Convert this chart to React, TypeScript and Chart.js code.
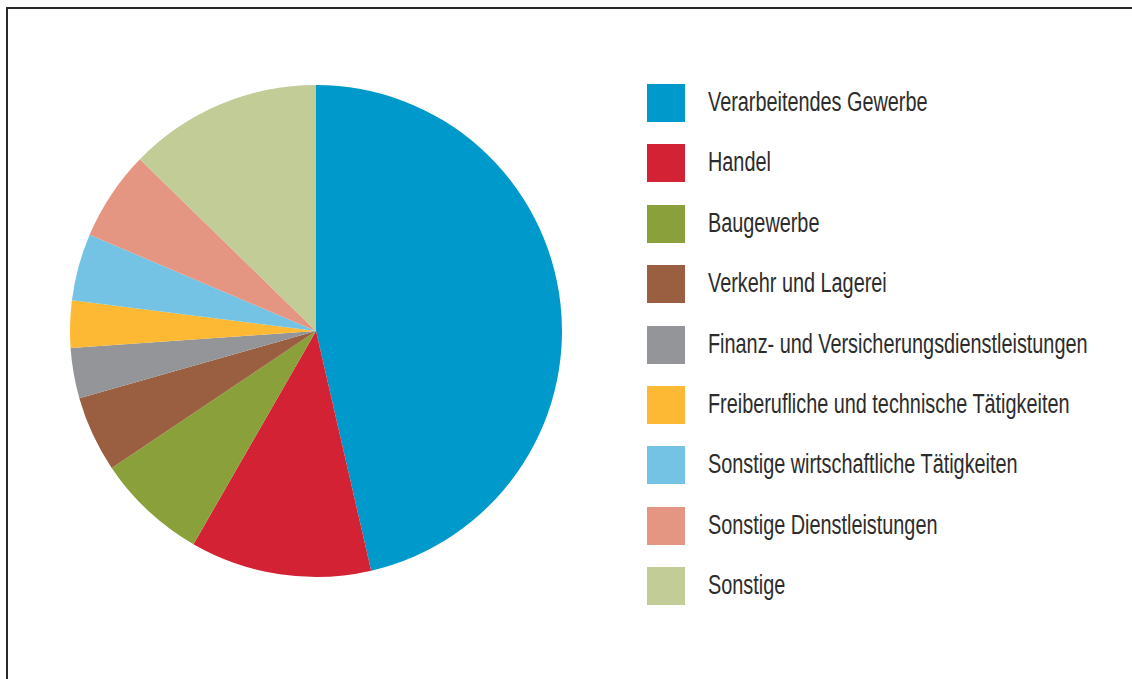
import React, { useEffect, useRef } from "react";
import { Chart, registerables } from "chart.js";

Chart.register(...registerables);

const categories: string[] = [
  "Verarbeitendes Gewerbe",
  "Handel",
  "Baugewerbe",
  "Verkehr und Lagerei",
  "Finanz- und Versicherungsdienstleistungen",
  "Freiberufliche und technische Tätigkeiten",
  "Sonstige wirtschaftliche Tätigkeiten",
  "Sonstige Dienstleistungen",
  "Sonstige",
];

const shares: number[] = [46.4, 11.9, 7.3, 5.0, 3.3, 3.1, 4.4, 5.9, 12.7];

const colors: string[] = [
  "#0099cc",
  "#d22234",
  "#8aa03a",
  "#9a5e40",
  "#939598",
  "#fdb933",
  "#74c3e4",
  "#e59683",
  "#c1cc96",
];

export default function App() {
  const canvasRef = useRef<HTMLCanvasElement | null>(null);

  useEffect(() => {
    if (!canvasRef.current) return;
    const chart = new Chart(canvasRef.current, {
      type: "pie",
      data: {
        labels: categories,
        datasets: [
          {
            data: shares,
            backgroundColor: colors,
            borderWidth: 0,
          },
        ],
      },
      options: {
        animation: false,
        responsive: true,
        maintainAspectRatio: false,
        layout: { padding: 4 },
        plugins: {
          legend: { display: false },
          tooltip: { enabled: false },
        },
      },
    });
    return () => chart.destroy();
  }, []);

  return (
    <div
      style={{
        position: "fixed",
        left: 0,
        top: 0,
        width: 1132,
        height: 679,
        overflow: "hidden",
        background: "#ffffff",
      }}
    >
      <div
        style={{
          position: "absolute",
          left: 6,
          top: 7,
          width: 1300,
          height: 900,
          borderTop: "2px solid #2a2a2a",
          borderLeft: "2px solid #2a2a2a",
        }}
      />
      <div
        style={{
          position: "absolute",
          left: 66,
          top: 81,
          width: 500,
          height: 500,
        }}
      >
        <canvas ref={canvasRef} />
      </div>
      <div style={{ position: "absolute", left: 647, top: 84 }}>
        {categories.map((c, i) => (
          <div
            key={c}
            style={{
              position: "absolute",
              left: 0,
              top: Math.round(i * 60.4),
              height: 38,
              display: "flex",
              alignItems: "center",
              whiteSpace: "nowrap",
            }}
          >
            <div
              style={{
                width: 38,
                height: 38,
                background: colors[i],
                flex: "0 0 auto",
              }}
            />
            <span
              style={{
                marginLeft: 23,
                fontFamily: "'Liberation Sans', Arial, sans-serif",
                fontSize: 27,
                lineHeight: "38px",
                color: "#2c2c2c",
                display: "inline-block",
                transform: "translateY(-1px) scaleX(0.735)",
                transformOrigin: "left center",
              }}
            >
              {c}
            </span>
          </div>
        ))}
      </div>
    </div>
  );
}
